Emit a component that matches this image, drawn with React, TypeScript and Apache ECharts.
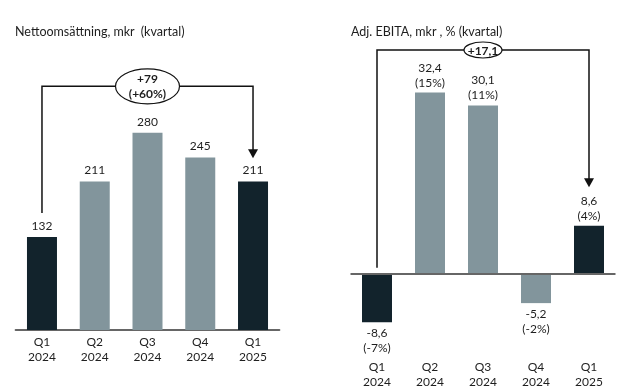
import React, { useEffect, useRef } from "react";
import * as echarts from "echarts";

const categories = ["Q1\n2024", "Q2\n2024", "Q3\n2024", "Q4\n2024", "Q1\n2025"];
const salesValues = [132, 211, 280, 245, 211];
const ebitaValues = [-8.6, 32.4, 30.1, -5.2, 8.6];
const ebitaMargins = ["-7%", "15%", "11%", "-2%", "4%"];
const highlighted = [true, false, false, false, true];
const salesTitle = "Nettoomsättning, mkr  (kvartal)";
const ebitaTitle = "Adj. EBITA, mkr , % (kvartal)";
const salesChange = ["+79", "(+60%)"];
const ebitaChange = "+17,1";

const DARK = "#12232c";
const GRAY = "#82959c";
const TEXT = "#1e1e1e";
const FONT = "Lato, 'Open Sans', sans-serif";

const fmt = (v: number) => v.toFixed(1).replace(".", ",");

export default function App() {
  const ref = useRef<HTMLDivElement>(null);
  useEffect(() => {
    if (!ref.current) return;
    const chart = echarts.init(ref.current, null, { renderer: "svg" });
    const labelBase = { show: true, color: TEXT, fontSize: 12, fontFamily: FONT, lineHeight: 15 };
    const titleStyle = { fontSize: 12.5, fontWeight: "normal", color: TEXT, fontFamily: FONT };
    chart.setOption({
      animation: false,
      textStyle: { fontFamily: FONT },
      title: [
        { text: salesTitle, left: 10, top: 20, textStyle: titleStyle },
        { text: ebitaTitle, left: 346, top: 20, textStyle: titleStyle },
      ],
      grid: [
        { left: 15.6, right: 349.6, top: 118.7, bottom: 62 },
        { left: 350.5, right: 13.5, top: 78, bottom: 62 },
      ],
      xAxis: [
        {
          type: "category", gridIndex: 0, data: categories,
          axisLine: { show: true, lineStyle: { color: "#666", width: 2 } },
          axisTick: { show: false },
          axisLabel: { margin: 4, color: TEXT, fontSize: 12, fontFamily: FONT, lineHeight: 15 },
        },
        {
          type: "category", gridIndex: 1, data: categories,
          axisLine: { show: false },
          axisTick: { show: false },
          axisLabel: { margin: 28.5, color: TEXT, fontSize: 12, fontFamily: FONT, lineHeight: 15 },
        },
      ],
      yAxis: [
        { type: "value", gridIndex: 0, min: 0, max: 300, show: false },
        { type: "value", gridIndex: 1, min: -10, max: 35, show: false },
      ],
      series: [
        {
          type: "bar", xAxisIndex: 0, yAxisIndex: 0, barWidth: 30,
          data: salesValues.map((v, i) => ({ value: v, itemStyle: { color: highlighted[i] ? DARK : GRAY } })),
          label: { ...labelBase, position: "top", distance: 4 },
        },
        {
          type: "bar", xAxisIndex: 1, yAxisIndex: 1, barWidth: 30,
          data: ebitaValues.map((v, i) => ({
            value: v,
            itemStyle: { color: highlighted[i] ? DARK : GRAY },
            label: { position: v < 0 ? "bottom" : "top" },
          })),
          label: {
            ...labelBase, distance: 3,
            formatter: (p: any) => fmt(p.value) + "\n(" + ebitaMargins[p.dataIndex] + ")",
          },
          markLine: {
            silent: true, symbol: "none",
            label: { show: false },
            lineStyle: { color: "#666", width: 2, type: "solid" },
            data: [{ yAxis: 0 }],
          },
        },
      ],
    });

    const px = (g: number, c: number, v: number) => chart.convertToPixel({ gridIndex: g } as any, [c, v]) as number[];
    const lineStyle = { stroke: "#111", lineWidth: 1.5 };
    const bracket = (g: number, startVal: number, topVal: number, tipVal: number, rx: number, ry: number, texts: string[]) => {
      const [x0, y0] = px(g, 0, startVal);
      const [, yTop] = px(g, 0, topVal);
      const [xc] = px(g, 2, 0);
      const [x1, yTip] = px(g, 4, tipVal);
      const els: any[] = [
        { type: "polyline", shape: { points: [[x0, y0], [x0, yTop], [x1, yTop], [x1, yTip - 8]] }, style: { ...lineStyle, fill: null } },
        { type: "polygon", shape: { points: [[x1 - 5, yTip - 9], [x1 + 5, yTip - 9], [x1, yTip]] }, style: { fill: "#111" } },
        { type: "ellipse", shape: { cx: xc, cy: yTop, rx, ry }, style: { fill: "#fff", stroke: "#111", lineWidth: 1.2 } },
      ];
      const lh = 15;
      texts.forEach((t, i) => {
        els.push({
          type: "text", x: xc, y: yTop + (i - (texts.length - 1) / 2) * lh,
          style: { text: t, fill: TEXT, font: `bold 12px ${FONT}`, align: "center", verticalAlign: "middle" },
        });
      });
      return els;
    };
    chart.setOption({
      graphic: [
        ...bracket(0, 166, 346, 244, 32, 17.5, salesChange),
        ...bracket(1, 1.1, 40, 15.5, 19, 8, [ebitaChange]),
      ],
    });
    return () => chart.dispose();
  }, []);
  return <div ref={ref} style={{ position: "fixed", left: 0, top: 0, width: 629, height: 392 }} />;
}
